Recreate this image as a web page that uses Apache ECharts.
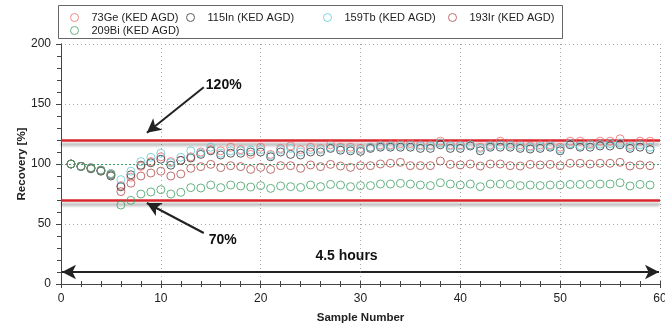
<!DOCTYPE html>
<html>
<head>
<meta charset="utf-8">
<script src="https://cdn.jsdelivr.net/npm/echarts@6/dist/echarts.min.js"></script>
<style>
  html, body { margin: 0; padding: 0; background: #fff; }
  #chart { width: 665px; height: 325px; }
</style>
</head>
<body>
<div id="chart"></div>
<script>
// sample numbers (x)
var samples = [1, 2, 3, 4, 5, 6, 7, 8, 9, 10, 11, 12, 13, 14, 15, 16, 17, 18, 19, 20,
  21, 22, 23, 24, 25, 26, 27, 28, 29, 30, 31, 32, 33, 34, 35, 36, 37, 38, 39, 40,
  41, 42, 43, 44, 45, 46, 47, 48, 49, 50, 51, 52, 53, 54, 55, 56, 57, 58, 59];

// recovery values in %
var ge73 = [100, 98, 97, 95, 92, 82, 89, 98, 102, 106, 102, 103, 106, 110, 112, 111, 114, 112, 108, 114,
  108, 113, 115, 112, 114, 113, 116, 114, 114, 113, 114, 116, 116, 117, 117, 116, 116, 119, 116, 116,
  116, 114, 116, 119, 117, 116, 115, 116, 116, 114, 119, 119, 117, 119, 119, 121, 116, 119, 119];
var in115 = [100, 98, 96, 94, 90, 81, 91, 99, 101, 104, 99, 103, 105, 108, 111, 107.5, 109, 109, 110, 110,
  106, 110, 108, 107.5, 110, 110, 113, 111.5, 111, 110.5, 113, 114, 114, 114, 114, 113, 113, 116, 113, 113,
  115, 111, 114, 114, 114, 113, 112.5, 113, 114, 111, 116, 114, 114, 115, 115, 116, 113, 114, 112];
var tb159 = [100, 98, 97, 95, 92, 87, 94, 102, 105.6, 109, 101, 105.6, 111, 109, 114, 109, 111, 111, 111.7, 112,
  107, 112, 113, 110, 112, 112, 114, 113, 112.5, 112, 114, 115, 115, 115.5, 115.5, 115, 115, 117.5, 115, 115,
  115.8, 113, 115, 115.8, 115.5, 114.5, 114, 114.5, 115, 112.5, 117, 115.3, 116, 116.5, 117, 117.5, 114.5, 116, 114];
var ir193 = [100, 98, 96.5, 94.5, 91, 77, 84, 90, 92.5, 94, 90, 91.7, 96.4, 97.8, 99.7, 97, 98.6, 97.8, 95.5, 97.2,
  95.5, 98.6, 98.6, 96.4, 99.2, 97.8, 99.7, 98.3, 97.2, 98.6, 98.6, 100, 100.6, 101.4, 98.6, 98.6, 98.6, 102.5, 99.7, 99.2,
  100, 98.3, 100, 100, 98.6, 98.3, 99.7, 99.2, 99.7, 98.6, 100.6, 100.6, 100, 100.6, 100.6, 101.4, 98.3, 99.2, 98.6];
var bi209 = [100, 98, 96.5, 94.5, 91, 65.8, 69.7, 75, 76.7, 78.6, 75, 76.4, 80.3, 80, 82.5, 80.3, 82.5, 81.7, 80.8, 82,
  79.7, 81.7, 81.1, 80.5, 82.5, 81.1, 83, 82.5, 81.1, 82, 82, 83.3, 83.3, 83.9, 83.3, 82.5, 82, 84.4, 83.3, 82.5,
  83.3, 81.1, 83.3, 83.3, 83, 82, 82.5, 82, 82.5, 82.5, 83, 83, 83, 83.3, 83.3, 84.4, 81.7, 83, 82.5];

var seriesNames = ['73Ge (KED AGD)', '115In (KED AGD)', '159Tb (KED AGD)', '193Ir (KED AGD)', '209Bi (KED AGD)'];
var seriesColors = ['#f06a6a', '#333333', '#5cc8d8', '#b04848', '#3fa064'];
var seriesValues = [ge73, in115, tb159, ir193, bi209];

var limits = [120, 70];
var refLine = 100;
var xTicks = [0, 10, 20, 30, 40, 50, 60];
var yTicks = [0, 50, 100, 150, 200];

function pairs(vals) {
  var out = [];
  for (var i = 0; i < samples.length; i++) out.push([samples[i], vals[i]]);
  return out;
}

var chart = echarts.init(document.getElementById('chart'));
var font = 'Liberation Sans, Arial, sans-serif';

var series = [];
for (var k = 0; k < seriesNames.length; k++) {
  series.push({
    name: seriesNames[k],
    type: 'scatter',
    symbol: 'circle',
    symbolSize: 8,
    z: 5,
    itemStyle: { color: 'rgba(255,255,255,0)', borderColor: seriesColors[k], borderWidth: 1 },
    data: pairs(seriesValues[k])
  });
}

// limit lines, reference line and annotations
series.push({
  type: 'line',
  data: [],
  silent: true,
  markLine: {
    silent: true,
    symbol: 'none',
    label: { show: false },
    data: [
      { yAxis: limits[0], lineStyle: { color: '#d9262c', width: 2.5, type: 'solid', shadowColor: 'rgba(0,0,0,0.35)', shadowBlur: 3, shadowOffsetY: 4 } },
      { yAxis: limits[1], lineStyle: { color: '#d9262c', width: 2.5, type: 'solid', shadowColor: 'rgba(0,0,0,0.35)', shadowBlur: 3, shadowOffsetY: 4 } },
      { yAxis: refLine, lineStyle: { color: '#3fa064', width: 1, type: [2, 2] } }
    ]
  }
});

series.push({
  type: 'line',
  data: [],
  silent: true,
  markLine: {
    silent: true,
    symbol: ['none', 'arrow'],
    symbolSize: [11, 14],
    label: { show: false },
    lineStyle: { color: '#222', width: 2, type: 'solid' },
    data: [
      [{ coord: [14.3, 164] }, { coord: [8.6, 126] }],
      [{ coord: [14.3, 42.5] }, { coord: [8.6, 67.5] }],
      [{ coord: [30, 10], symbol: 'none' }, { coord: [59.9, 10] }],
      [{ coord: [30, 10], symbol: 'none' }, { coord: [0.1, 10] }]
    ]
  },
  markPoint: {
    silent: true,
    symbol: 'circle',
    symbolSize: 0,
    label: { show: true, color: '#111', fontFamily: font, fontWeight: 'bold', fontSize: 14, formatter: '{b}' },
    data: [
      { name: '120%', coord: [16.3, 166] },
      { name: '70%', coord: [16.2, 36.5] },
      { name: '4.5 hours', coord: [28.6, 23] }
    ]
  }
});

function legendAt(name, left, top) {
  return {
    data: [name], left: left, top: top, itemWidth: 8, itemHeight: 8,
    padding: 0, selectedMode: false,
    itemStyle: { borderWidth: 1 },
    textStyle: { fontFamily: font, fontSize: 11, color: '#222', padding: [0, 0, 0, 8] }
  };
}

var option = {
  animation: false,
  backgroundColor: '#fff',
  grid: { left: 61, right: 5, top: 44, bottom: 41, outerBoundsMode: 'none' },
  legend: [
    legendAt(seriesNames[0], 70, 12),
    legendAt(seriesNames[1], 186, 12),
    legendAt(seriesNames[2], 323, 12),
    legendAt(seriesNames[3], 448, 12),
    legendAt(seriesNames[4], 70, 25)
  ],
  graphic: [{
    type: 'rect', left: 58, top: 5, silent: true, z: -1,
    shape: { width: 504, height: 33 },
    style: { fill: '#fff', stroke: '#666', lineWidth: 1 }
  }],
  xAxis: [{
    type: 'value', min: xTicks[0], max: xTicks[xTicks.length - 1], interval: 10,
    name: 'Sample Number', nameLocation: 'middle', nameGap: 28, nameMoveOverlap: false,
    nameTextStyle: { fontFamily: font, fontWeight: 'bold', fontSize: 11.5, color: '#222' },
    axisLine: { show: true, onZero: false, lineStyle: { color: '#444' } },
    axisTick: { show: true, length: 4, lineStyle: { color: '#444' } },
    minorTick: { show: true, splitNumber: 5, length: 3, lineStyle: { color: '#444' } },
    axisLabel: { fontFamily: font, fontSize: 12, color: '#222', margin: 9 },
    splitLine: { show: true, lineStyle: { color: '#aaa', type: [1, 3] } }
  }, {
    type: 'value', position: 'top', min: 0, max: 60,
    axisLine: { show: true, lineStyle: { color: '#444' } },
    axisTick: { show: false }, axisLabel: { show: false }, splitLine: { show: false }
  }, {
    type: 'value', position: 'bottom', min: 0, max: 60, interval: 10,
    axisLine: { show: false },
    axisTick: { show: true, inside: true, length: 3, lineStyle: { color: '#444' } },
    minorTick: { show: true, splitNumber: 5, length: 3, lineStyle: { color: '#444' } },
    axisLabel: { show: false }, splitLine: { show: false }
  }],
  yAxis: [{
    type: 'value', min: yTicks[0], max: yTicks[yTicks.length - 1], interval: 50,
    name: 'Recovery [%]', nameLocation: 'middle', nameGap: 33, nameMoveOverlap: false,
    nameTextStyle: { fontFamily: font, fontWeight: 'bold', fontSize: 11.5, color: '#222' },
    axisLine: { show: true, lineStyle: { color: '#444' } },
    axisTick: { show: true, length: 5, lineStyle: { color: '#444' } },
    minorTick: { show: true, splitNumber: 5, length: 4, lineStyle: { color: '#444' } },
    axisLabel: { fontFamily: font, fontSize: 12, color: '#222', margin: 10 },
    splitLine: { show: true, lineStyle: { color: '#aaa', type: [1, 3] } }
  }, {
    type: 'value', position: 'right', min: 0, max: 200, interval: 50,
    axisLine: { show: true, lineStyle: { color: '#444' } },
    axisTick: { show: true, inside: true, length: 5, lineStyle: { color: '#444' } },
    minorTick: { show: true, splitNumber: 5, length: 4, lineStyle: { color: '#444' } },
    axisLabel: { show: false }, splitLine: { show: false }
  }],
  series: series
};

chart.setOption(option);
</script>
</body>
</html>
